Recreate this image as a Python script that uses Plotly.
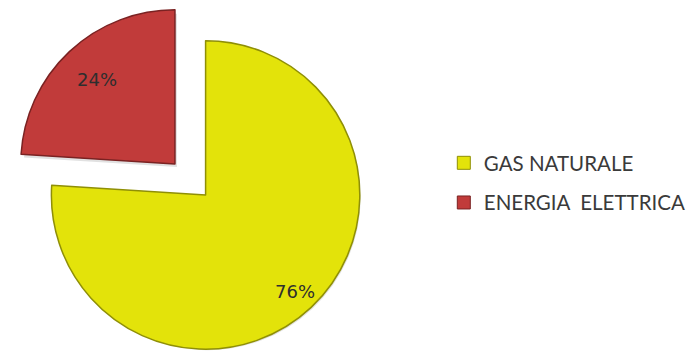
import math
import plotly.graph_objects as go

# Energy mix shares (percent)
labels = ["GAS NATURALE", "ENERGIA\u00a0 ELETTRICA"]
values = [76, 24]
fill_colors = ["#E3E30A", "#C13B3A"]
edge_colors = ["#8F8F06", "#7A2222"]
SHADOW = "rgba(90,90,90,0.18)"
CLEAR = "rgba(0,0,0,0)"

W, H = 691, 351
R = 156  # pie radius in px
# pixel centres (from top-left) of the in-place slice and the exploded slice
centres = [(208, 195), (177, 164)]
label_radius = [0.85, 0.74]  # fraction of R where each percentage sits


def domain_at(cx, cy, r=R):
    """Square pie domain (paper fractions) centred at pixel (cx, cy) from top-left."""
    return dict(
        x=[(cx - r) / W, (cx + r) / W],
        y=[max(0, (H - cy - r) / H), min(1, (H - cy + r) / H)],
    )


def slice_trace(visible_idx, dom, fill=None, edge=None):
    n = len(values)
    cols = [(fill or fill_colors[i]) if i == visible_idx else CLEAR for i in range(n)]
    lines = [(edge or edge_colors[i]) if i == visible_idx else CLEAR for i in range(n)]
    return go.Pie(
        labels=labels,
        values=values,
        sort=False,
        direction="clockwise",
        rotation=0,
        domain=dom,
        marker=dict(colors=cols, line=dict(color=lines, width=1.5)),
        textinfo="none",
        hoverinfo="label+percent",
        showlegend=False,
    )


fig = go.Figure()
# soft drop shadow under each slice
for i in range(len(values)):
    cx, cy = centres[i]
    fig.add_trace(slice_trace(i, domain_at(cx + 2, cy + 3, R - 1), SHADOW, CLEAR))
for i in range(len(values)):
    fig.add_trace(slice_trace(i, domain_at(*centres[i])))

# percentage labels placed along each slice's bisector
total = sum(values)
start = 0.0
for i, v in enumerate(values):
    mid = math.radians((start + v / 2) / total * 360)  # clockwise from 12 o'clock
    start += v
    cx, cy = centres[i]
    px = cx + label_radius[i] * R * math.sin(mid)
    py = cy - label_radius[i] * R * math.cos(mid)
    fig.add_annotation(
        x=px / W, y=1 - py / H, xref="paper", yref="paper",
        xanchor="center", yanchor="middle",
        text=f"{round(100 * v / total)}%", showarrow=False,
        font=dict(family="DejaVu Sans", size=18, color="#2E2E2E"),
    )

# legend swatches
for i, name in enumerate(labels):
    fig.add_trace(
        go.Scatter(
            x=[None], y=[None], mode="markers", name=name,
            legendgroup=f"g{i}",
            marker=dict(symbol="square", size=13, color=fill_colors[i],
                        line=dict(color=edge_colors[i], width=1)),
        )
    )

fig.update_layout(
    width=W, height=H,
    margin=dict(l=0, r=0, t=0, b=0),
    paper_bgcolor="white", plot_bgcolor="white",
    xaxis=dict(visible=False), yaxis=dict(visible=False),
    legend=dict(
        x=449 / W, y=1 - 143 / H, xanchor="left", yanchor="top",
        font=dict(family="Lato", size=20.5, color="#3A3A3A"),
        tracegroupgap=10, itemwidth=30,
        bgcolor="rgba(0,0,0,0)",
    ),
)

fig.write_html("out.html")
